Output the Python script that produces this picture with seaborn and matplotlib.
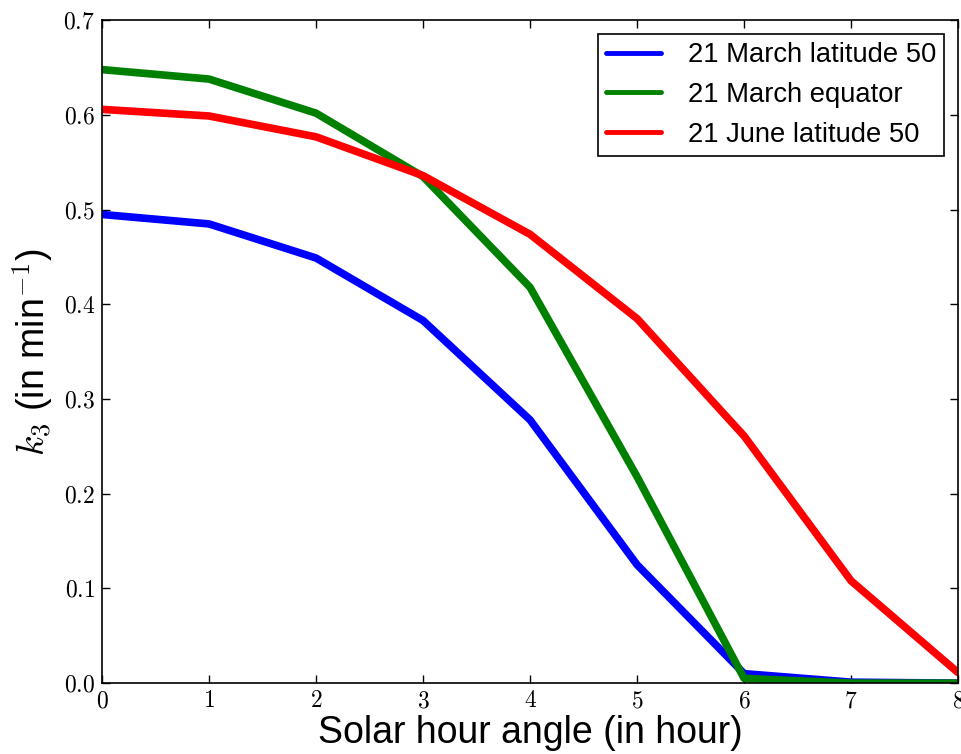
import numpy as np
import pandas as pd
import matplotlib
matplotlib.use("Agg")
import matplotlib.pyplot as plt
from matplotlib.ticker import FormatStrFormatter
import seaborn as sns

# heures (angle horaire)
hours = [0, 1, 2, 3, 4, 5, 6, 7, 8]
march_lat50 = [0.495, 0.485, 0.449, 0.383, 0.278, 0.125, 0.010, 0.001, 0.0]
march_equator = [0.648, 0.638, 0.602, 0.535, 0.418, 0.218, 0.005, 0.0, 0.0]
june_lat50 = [0.606, 0.599, 0.577, 0.536, 0.474, 0.385, 0.261, 0.108, 0.011]
series_names = ["21 March latitude 50", "21 March equator", "21 June latitude 50"]

df = pd.DataFrame({
    "hour": hours * 3,
    "k3": march_lat50 + march_equator + june_lat50,
    "serie": [series_names[0]] * 9 + [series_names[1]] * 9 + [series_names[2]] * 9,
})

sns.set_style("ticks")
plt.rcParams["font.family"] = ["Liberation Sans", "DejaVu Sans"]
plt.rcParams["mathtext.fontset"] = "cm"
plt.rcParams["text.color"] = "black"
plt.rcParams["axes.labelcolor"] = "black"

fig = plt.figure(figsize=(9.62, 7.54), dpi=100)
ax = fig.add_axes([0.106, 0.094, 0.890, 0.879])

sns.lineplot(data=df, x="hour", y="k3", hue="serie", palette=["#0000ff", "#008000", "#ff0000"],
             linewidth=5.5, ax=ax)

ax.set_xlim(0, 8)
ax.set_ylim(0, 0.7)
ax.set_xticks(hours)
ax.set_yticks(np.arange(0, 0.71, 0.1))
ax.xaxis.set_major_formatter(FormatStrFormatter(r"$%d$"))
ax.yaxis.set_major_formatter(FormatStrFormatter(r"$%.1f$"))
ax.tick_params(direction="in", length=6, width=1, top=True, right=True, labelsize=17, pad=5, colors="black")
for s in ax.spines.values():
    s.set_linewidth(1.2)
    s.set_color("black")

ax.set_xlabel("Solar hour angle (in hour)", fontsize=27, labelpad=2)
ax.set_ylabel(r"$k_3$ (in min$^{-1}$)", fontsize=27, labelpad=6)

leg = ax.legend(loc="upper right", fontsize=19.7, frameon=True, fancybox=False, handlelength=2.0,
                handletextpad=1.0, borderpad=0.3, labelspacing=0.5, borderaxespad=0.5)
leg.get_frame().set_edgecolor("black")
leg.get_frame().set_linewidth(1.2)
leg.get_frame().set_alpha(1)
for ln in leg.get_lines():
    ln.set_linewidth(3.5)

fig.savefig("out.png", dpi=100)
